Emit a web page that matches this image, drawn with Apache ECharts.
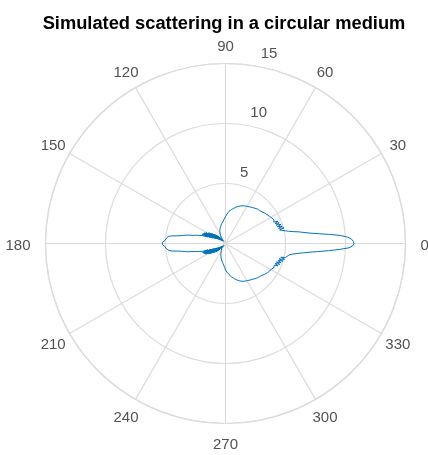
<!DOCTYPE html>
<html>
<head>
<meta charset="utf-8">
<script src="https://cdn.jsdelivr.net/npm/echarts@6/dist/echarts.min.js"></script>
<style>
  html, body { margin: 0; padding: 0; background: #fff; }
  #chart { width: 428px; height: 455px; }
</style>
</head>
<body>
<div id="chart"></div>
<script>
// Scattered intensity, upper half: radius at angles 0..180 deg (1 deg steps)
const upperR = [
  10.7, 10.65, 10.5, 10.2, 9.6, 8.7, 7.8, 7.1, 6.6, 6.2, 5.7,
  5.35, 5.1, 4.95, 4.65, 5.05, 4.6, 4.95, 4.55, 4.9, 4.5,
  4.8, 4.45, 4.75, 4.4, 4.6, 4.5, 4.45, 4.45, 4.4, 4.35,
  4.33, 4.3, 4.28, 4.25, 4.22, 4.2, 4.15, 4.12, 4.1, 4.05,
  4.03, 4.0, 3.97, 3.95, 3.93, 3.95, 3.92, 3.9, 3.86, 3.83,
  3.8, 3.78, 3.75, 3.72, 3.7, 3.67, 3.65, 3.62, 3.6, 3.58,
  3.56, 3.53, 3.51, 3.49, 3.47, 3.44, 3.41, 3.38, 3.35, 3.32,
  3.28, 3.24, 3.2, 3.15, 3.1, 3.05, 3.0, 2.96, 2.92, 2.88,
  2.84, 2.8, 2.74, 2.68, 2.6, 2.53, 2.46, 2.39, 2.32, 2.24,
  2.2, 2.12, 2.05, 1.98, 1.95, 1.88, 1.86, 1.8, 1.76, 1.72,
  1.69, 1.63, 1.6, 1.55, 1.52, 1.47, 1.45, 1.4, 1.38, 1.35,
  1.3, 1.26, 1.22, 1.17, 1.13, 1.08, 1.03, 0.97, 0.93, 0.88,
  0.84, 0.78, 0.72, 0.68, 0.62, 0.58, 0.52, 0.48, 0.42, 0.38,
  0.55, 0.25, 0.7, 0.3, 0.85, 0.35, 0.95, 0.4, 1.1, 0.45,
  1.2, 0.5, 1.35, 0.55, 1.45, 0.65, 1.6, 0.7, 1.7, 0.8,
  1.85, 0.9, 1.95, 1.0, 2.0, 1.15, 2.05, 1.35, 2.1, 1.6,
  2.05, 2.1, 2.3, 2.5, 2.65, 2.8, 3.1, 3.35, 3.55, 3.75,
  4.1, 4.55, 4.8, 4.9, 4.95, 5.0, 5.05, 5.15, 5.25, 5.3
];

// Lower half: radius at angles 0..-180 deg (1 deg steps)
const lowerR = [
  10.7, 10.6, 10.3, 9.5, 8.6, 7.7, 7.0, 6.45, 6.0, 5.65, 5.4,
  5.2, 5.05, 5.15, 4.75, 5.1, 4.65, 5.0, 4.6, 4.9, 4.5,
  4.85, 4.45, 4.75, 4.45, 4.6, 4.45, 4.5, 4.4, 4.38, 4.36,
  4.34, 4.33, 4.3, 4.28, 4.25, 4.22, 4.2, 4.16, 4.12, 4.08,
  4.04, 4.0, 3.98, 3.96, 3.93, 3.92, 3.9, 3.87, 3.85, 3.82,
  3.8, 3.77, 3.74, 3.72, 3.69, 3.67, 3.64, 3.62, 3.6, 3.58,
  3.56, 3.54, 3.52, 3.5, 3.48, 3.45, 3.42, 3.38, 3.34, 3.3,
  3.26, 3.22, 3.17, 3.12, 3.07, 3.02, 2.97, 2.92, 2.87, 2.82,
  2.76, 2.7, 2.64, 2.58, 2.52, 2.46, 2.4, 2.33, 2.26, 2.2,
  2.1, 2.0, 1.92, 1.85, 1.8, 1.72, 1.68, 1.63, 1.6, 1.56,
  1.52, 1.47, 1.43, 1.38, 1.34, 1.3, 1.26, 1.22, 1.18, 1.13,
  1.09, 1.04, 1.0, 0.95, 0.91, 0.86, 0.82, 0.77, 0.73, 0.68,
  0.66, 0.6, 0.56, 0.5, 0.46, 0.42, 0.38, 0.35, 0.32, 0.3,
  0.5, 0.22, 0.65, 0.28, 0.8, 0.32, 0.9, 0.38, 1.05, 0.42,
  1.15, 0.48, 1.3, 0.52, 1.4, 0.6, 1.55, 0.68, 1.65, 0.75,
  1.8, 0.85, 1.9, 0.95, 1.95, 1.1, 2.0, 1.3, 2.05, 1.55,
  2.0, 2.1, 2.25, 2.45, 2.6, 2.78, 3.05, 3.3, 3.5, 3.72,
  4.05, 4.5, 4.75, 4.88, 4.95, 5.0, 5.05, 5.15, 5.25, 5.3
];

// Tick labels
const angleTicks = [0, 30, 60, 90, 120, 150, 180, 210, 240, 270, 300, 330];
const angleTickLabels = ['0', '30', '60', '90', '120', '150', '180', '210', '240', '270', '300', '330'];
const radiusTicks = [5, 10, 15];
const radiusTickLabels = ['5', '10', '15'];
const radiusLabelAngle = 80;

// Closed curve: walk the upper half 0 -> 180, then the lower half back to 360
const curve = [];
for (let k = 0; k < upperR.length; k++) curve.push([upperR[k], k]);
for (let k = lowerR.length - 2; k >= 0; k--) curve.push([lowerR[k], 360 - k]);

const gridColor = '#dcdcdc';
const textColor = '#262626';
const fontFamily = '"Liberation Sans", Arial, Helvetica, sans-serif';
const cx = 225.5, cy = 243.5;

// Labels on the horizontal ends hug the circle with their inner edge
function angleLabelStyle(a) {
  if (a === 0) return { align: 'left', offset: [-4, 2] };
  if (a === 180) return { align: 'right', offset: [4, 2] };
  return { align: 'center', offset: [0, 2] };
}

const chart = echarts.init(document.getElementById('chart'), null, { renderer: 'canvas' });
chart.setOption({
  animation: false,
  backgroundColor: '#ffffff',
  title: {
    text: 'Simulated scattering in a circular medium',
    left: 219,
    textAlign: 'center',
    top: 10,
    textStyle: { fontFamily, fontSize: 18.3, fontWeight: 'bold', color: '#000' }
  },
  polar: [
    { center: [cx, cy], radius: 180 },
    { center: [cx, cy], radius: 199 }
  ],
  angleAxis: [
    {
      polarIndex: 0, type: 'value', min: 0, max: 360, interval: 30,
      startAngle: 0, clockwise: false,
      axisLine: { show: true, lineStyle: { color: gridColor, width: 1.2 } },
      axisTick: { show: false },
      axisLabel: { show: false },
      splitLine: { show: true, lineStyle: { color: gridColor, width: 1.2 } }
    },
    {
      polarIndex: 1, type: 'value', min: 0, max: 360,
      startAngle: 0, clockwise: false,
      axisLine: { show: false }, axisTick: { show: false },
      axisLabel: { show: false }, splitLine: { show: false }
    }
  ],
  radiusAxis: [
    {
      polarIndex: 0, type: 'value', min: 0, max: 15, interval: 5,
      axisLine: { show: false }, axisTick: { show: false },
      axisLabel: { show: false },
      splitLine: { show: true, lineStyle: { color: gridColor, width: 1.2 } }
    },
    {
      polarIndex: 1, type: 'value', min: 0, max: 15,
      axisLine: { show: false }, axisTick: { show: false },
      axisLabel: { show: false }, splitLine: { show: false }
    }
  ],
  series: [
    {
      type: 'line',
      coordinateSystem: 'polar',
      polarIndex: 0,
      data: curve,
      showSymbol: false,
      symbol: 'none',
      lineStyle: { color: '#0072BD', width: 1 },
      silent: true
    },
    {
      // angle tick labels on a ring just outside the grid
      type: 'scatter',
      coordinateSystem: 'polar',
      polarIndex: 1,
      symbolSize: 0,
      silent: true,
      data: angleTicks.map((a, i) => ({
        value: [15, a],
        name: angleTickLabels[i],
        label: angleLabelStyle(a)
      })),
      label: {
        show: true, position: 'inside',
        formatter: p => p.name,
        color: textColor, fontFamily, fontSize: 15
      }
    },
    {
      // radius tick labels along the 80 degree ray
      type: 'scatter',
      coordinateSystem: 'polar',
      polarIndex: 0,
      symbolSize: 0,
      silent: true,
      data: radiusTicks.map((r, i) => ({ value: [r, radiusLabelAngle], name: radiusTickLabels[i] })),
      label: {
        show: true, position: 'right', distance: 3, offset: [1, -12],
        formatter: p => p.name,
        color: textColor, fontFamily, fontSize: 15
      }
    }
  ]
});
</script>
</body>
</html>
